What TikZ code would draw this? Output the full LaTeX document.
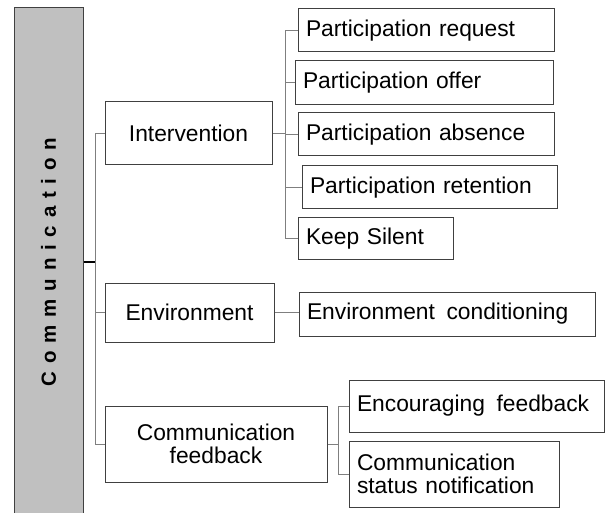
\documentclass[tikz,border=0pt]{standalone}
\usepackage{fontspec}
\setmainfont{Liberation Sans}
\definecolor{bargray}{HTML}{C0C0C0}
\definecolor{edgegray}{HTML}{404040}
\definecolor{linkgray}{HTML}{7F7F7F}

\begin{document}
\begin{tikzpicture}[x=1pt, y=-1pt,
  box/.style={draw=edgegray, line width=1pt, inner sep=0pt,
    font=\fontsize{22.8}{23}\selectfont},
  leaf/.style={box, align=left, inner xsep=8pt},
  link/.style={draw=linkgray, line width=1pt}]
\useasboundingbox (0,0) rectangle (605,513);

% side bar
\node[draw=edgegray, fill=bargray, line width=1pt, rotate=90, inner sep=0pt,
  minimum width=508pt, minimum height=69pt,
  font=\fontsize{20.5}{20}\selectfont\bfseries\addfontfeature{LetterSpace=38}]
  (comm) at (48.5,262) {Communication};

% first level
\node[box, minimum width=167pt, minimum height=63pt] (interv) at (188.5,133.5) {Intervention};
\node[box, minimum width=169pt, minimum height=59pt] (envir) at (189.5,312.5) {Environment};
\node[box, minimum width=222pt, minimum height=76pt, align=center] (cfeed) at (216,444) {Communication\\feedback};

% second level
\node[leaf, text width=240pt, minimum height=43pt] (preq) at (426,30.5) {Participation request};
\node[leaf, text width=242pt, minimum height=44pt] (offer) at (424,83) {Participation offer};
\node[leaf, text width=240pt, minimum height=43pt] (absence) at (426,134.5) {Participation absence};
\node[leaf, text width=239pt, minimum height=43pt] (retention) at (429.5,187.5) {Participation retention};
\node[leaf, text width=139pt, minimum height=41pt] (keep) at (375.5,238.5) {Keep Silent};
\node[leaf, text width=280pt, minimum height=44pt] (envcond) at (447,314) {Environment\hspace{4pt} conditioning};
\node[leaf, text width=239pt, minimum height=52pt] (encour) at (476.5,406) {Encouraging\hspace{4pt} feedback};
\node[leaf, text width=194pt, minimum height=66pt] (status) at (454,474) {Communication\\status notification};

% connectors
\coordinate (trunk) at (95,262);
\coordinate (ij) at (285,133.5);
\coordinate (fj) at (338,444);

\draw[black, line width=1.2pt] (comm.south) -- (trunk);
\foreach \n in {interv, envir, cfeed}
    \draw[link] (trunk) |- (\n.west);
\draw[link] (interv.east) -- (ij);
\foreach \n in {preq, offer, absence, retention, keep}
    \draw[link] (ij) |- (\n.west);
\draw[link] (envir.east) -- (envcond.west |- envir.east);
\draw[link] (cfeed.east) -- (fj);
\foreach \n in {encour, status}
    \draw[link] (fj) |- (\n.west);
\end{tikzpicture}
\end{document}
